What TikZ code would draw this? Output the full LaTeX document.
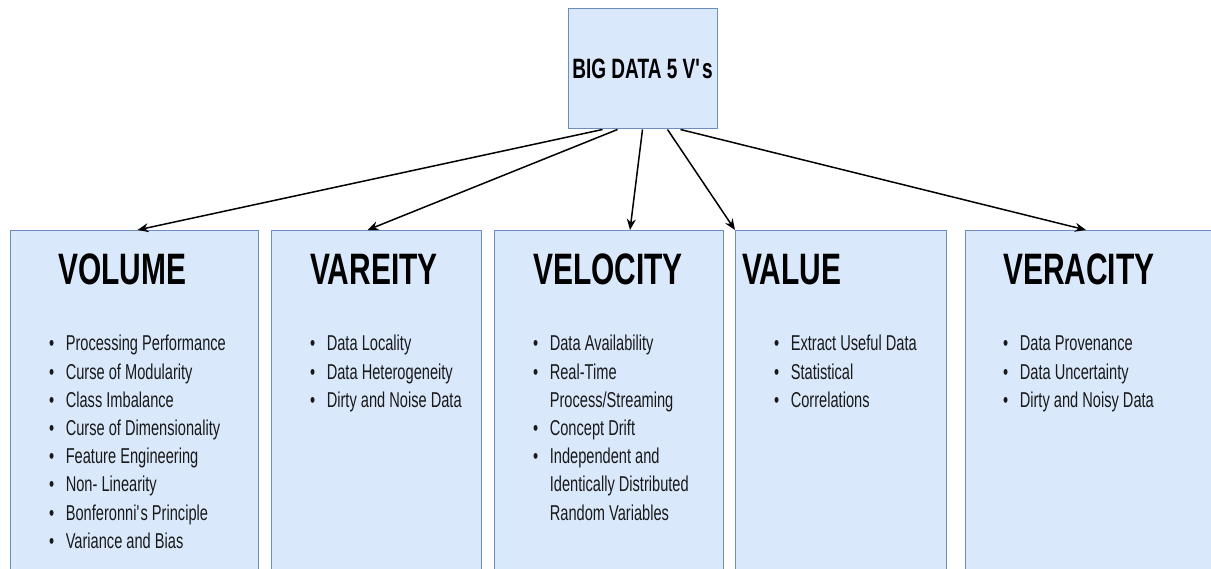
\documentclass[tikz,border=0pt]{standalone}
\usepackage{fontspec}
\setmainfont{Liberation Sans}[FakeStretch=0.68]
\usepackage{tikz}
\usetikzlibrary{arrows.meta,positioning}
\definecolor{vfill}{RGB}{218,232,252}
\definecolor{vline}{RGB}{108,142,191}
\tikzset{
  vbox/.style={
    draw=vline,fill=vfill,line width=1pt,inner sep=0pt,
    minimum height=380pt
  },
  vtitle/.style={font=\bfseries\fontsize{44}{53}\selectfont,inner sep=0pt,anchor=base west},
  vlist/.style={font=\fontsize{21.5}{28.2}\selectfont,text=black!90,inner sep=0pt,anchor=base west},
  varrow/.style={-{Stealth[length=11pt,width=9pt]},line width=1.5pt,draw=black}
}
\newcommand{\vtab}[1]{\begin{tabular}[t]{@{}l@{\hspace{11.5pt}}l@{}}#1\end{tabular}}

\begin{document}
\begin{tikzpicture}[x=1pt,y=-1pt]
  \useasboundingbox (0,0) rectangle (1211,569);
  % top box
  \node[vbox,minimum width=149pt,minimum height=120pt,
    font=\bfseries\fontsize{28}{34}\selectfont] (bigdata) at (642.5,69)
    {BIG DATA 5 V\textquotesingle s};
  % the five columns
  \node[vbox,anchor=north west,minimum width=248pt] (volume) at (10,230) {};
  \node[vbox,anchor=north west,minimum width=210pt] (variety) at (271,230) {};
  \node[vbox,anchor=north west,minimum width=229pt] (velocity) at (494,230) {};
  \node[vbox,anchor=north west,minimum width=211pt] (value) at (735,230) {};
  \node[vbox,anchor=north west,minimum width=265pt] (veracity) at (965,230) {};

  \node[vtitle] (volumehead) at (58,285) {VOLUME};
  \node[vtitle] (varietyhead) at (310,285) {VAREITY};
  \node[vtitle] (velocityhead) at (533,285) {VELOCITY};
  \node[vtitle] (valuehead) at (742,285) {VALUE};
  \node[vtitle] (veracityhead) at (1003,285) {VERACITY};

  \node[vlist] (volumelist) at (49,351) {\vtab{%
    \textbullet & Processing Performance\\
    \textbullet & Curse of Modularity\\
    \textbullet & Class Imbalance\\
    \textbullet & Curse of Dimensionality\\
    \textbullet & Feature Engineering\\
    \textbullet & Non- Linearity\\
    \textbullet & Bonferonni\textquotesingle s Principle\\
    \textbullet & Variance and Bias}};
  \node[vlist] (varietylist) at (310,351) {\vtab{%
    \textbullet & Data Locality\\
    \textbullet & Data Heterogeneity\\
    \textbullet & Dirty and Noise Data}};
  \node[vlist] (velocitylist) at (533,351) {\vtab{%
    \textbullet & Data Availability\\
    \textbullet & Real-Time\\
                & Process/Streaming\\
    \textbullet & Concept Drift\\
    \textbullet & Independent and\\
                & Identically Distributed\\
                & Random Variables}};
  \node[vlist] (valuelist) at (774,351) {\vtab{%
    \textbullet & Extract Useful Data\\
    \textbullet & Statistical\\
    \textbullet & Correlations}};
  \node[vlist] (veracitylist) at (1003,351) {\vtab{%
    \textbullet & Data Provenance\\
    \textbullet & Data Uncertainty\\
    \textbullet & Dirty and Noisy Data}};

  % arrows
  \draw[varrow] ([xshift=-40pt]bigdata.south) -- ([xshift=3pt]volume.north);
  \draw[varrow] ([xshift=-25pt]bigdata.south) -- ([xshift=-9pt]variety.north);
  \draw[varrow] (bigdata.south) -- ([xshift=21pt]velocity.north);
  \draw[varrow] ([xshift=25pt]bigdata.south) -- (value.north west);
  \draw[varrow] ([xshift=38pt]bigdata.south) -- ([xshift=-12pt]veracity.north);
\end{tikzpicture}
\end{document}
